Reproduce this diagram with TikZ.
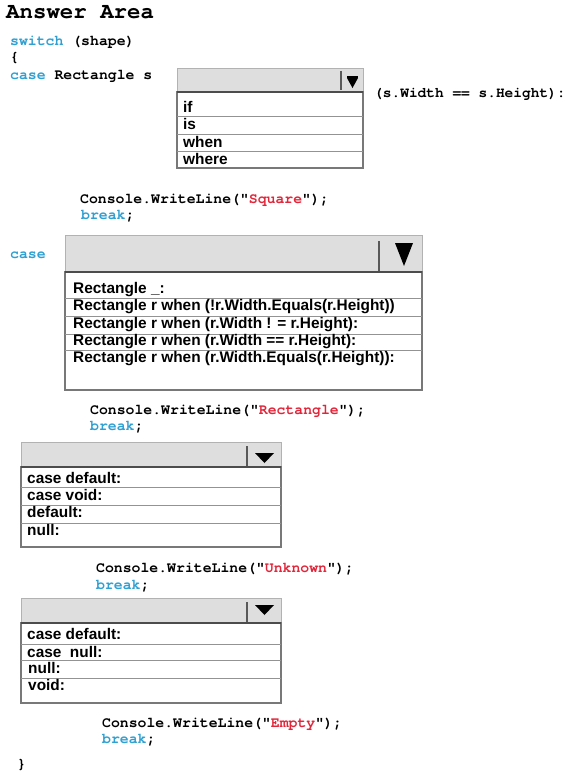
\documentclass[tikz,border=0pt]{standalone}
\usepackage{fontspec}
\usepackage{xcolor}
\usepackage{tikz}
\usetikzlibrary{positioning}
\newfontfamily\codefont[Ligatures=TeXOff]{TeX Gyre Cursor}
\newfontfamily\itemfont{Liberation Sans}
\definecolor{kwBlue}{RGB}{48,160,210}
\definecolor{strRed}{RGB}{226,38,58}
\definecolor{ddFill}{RGB}{222,222,222}
\definecolor{ddEdge}{RGB}{120,120,120}
\newcommand{\kwd}[1]{\textcolor{kwBlue}{#1}}
\newcommand{\strg}[1]{\textcolor{strRed}{#1}}
\tikzset{
  code/.style={font=\codefont\bfseries\fontsize{14.8}{16}\selectfont, anchor=west, inner sep=0, text height=8pt, text depth=0pt},
  title/.style={font=\codefont\bfseries\fontsize{22.4}{24}\selectfont, anchor=west, inner sep=0, text height=13pt, text depth=0pt},
  item/.style={font=\itemfont\bfseries\fontsize{15.4}{17}\selectfont, anchor=west, inner sep=0, text height=10.5pt, text depth=0pt},
  ddhead/.style={fill=ddFill, draw=ddFill!80!black, line width=0.8pt},
  ddlist/.style={draw=ddEdge, line width=1.1pt},
  ddrow/.style={draw=ddEdge!80, line width=0.8pt},
  ddsep/.style={draw=black!65, line width=1.3pt},
  ddtop/.style={draw=black!70, line width=1.3pt}
}
\begin{document}
\begin{tikzpicture}[x=1pt, y=-1pt]
  \useasboundingbox (0,0) rectangle (568,776);
  \node[title] (answer) at (6,12) {Answer Area};

  \node[code] (sw) at (10,42) {\kwd{switch} (shape)};
  \node[code] (open) at (10,58) {\{};
  \node[code] (caseRect) at (10,75) {\kwd{case} Rectangle s};

  % first list
  \filldraw[ddhead] (177,68) rectangle (363,92);
  \draw[ddsep] (341,71) -- (341,90);
  \fill (347,76) rectangle (358,78);
  \fill (347,78) -- (358,78) -- (352.5,88) -- cycle;
  \draw[ddlist] (177,92) rectangle (363,168);
  \draw[ddtop] (177,92) -- (363,92);
  \draw[ddrow] (177,116) -- (363,116);
  \draw[ddrow] (177,134) -- (363,134);
  \draw[ddrow] (177,151) -- (363,151);
  \node[item] (ifOpt) at (183,107) {if};
  \node[item] (isOpt) at (183,124) {is};
  \node[item] (whenOpt) at (183,142) {when};
  \node[item] (whereOpt) at (183,159) {where};
  \node[code, font=\codefont\bfseries\fontsize{14.5}{16}\selectfont] (cond) at (374,93) {(s.Width == s.Height):};

  \node[code] (wlSquare) at (80,199) {Console.WriteLine("\strg{Square}");};
  \node[code] (brSquare) at (81,215) {\kwd{break};};

  % second list
  \node[code] (caseTwo) at (10,254) {\kwd{case}};
  \filldraw[ddhead] (65,235) rectangle (422,272);
  \draw[ddsep] (379,241) -- (379,271);
  \fill (395,243) -- (413,243) -- (404,266) -- cycle;
  \draw[ddlist] (65,272) rectangle (422,390);
  \draw[ddtop] (65,272) -- (422,272);
  \draw[ddrow] (65,298) -- (422,298);
  \draw[ddrow] (65,316) -- (422,316);
  \draw[ddrow] (65,334) -- (422,334);
  \draw[ddrow] (65,350) -- (422,350);
  \node[item] (rectAny) at (73,288) {Rectangle \_:};
  \node[item] (rectNotEq) at (73,305) {Rectangle r when (!r.Width.Equals(r.Height))};
  \node[item] (rectNe) at (73,323) {Rectangle r when (r.Width ! = r.Height):};
  \node[item] (rectEqEq) at (73,340) {Rectangle r when (r.Width == r.Height):};
  \node[item] (rectEq) at (73,357) {Rectangle r when (r.Width.Equals(r.Height)):};

  \node[code] (wlRect) at (90,410) {Console.WriteLine("\strg{Rectangle}");};
  \node[code] (brRect) at (90,426) {\kwd{break};};

  % third list
  \filldraw[ddhead] (21,442) rectangle (281,467);
  \draw[ddsep] (247,446) -- (247,466);
  \fill (255,453) -- (274,453) -- (264.5,463) -- cycle;
  \draw[ddlist] (21,467) rectangle (281,547);
  \draw[ddtop] (21,467) -- (281,467);
  \draw[ddrow] (21,487) -- (281,487);
  \draw[ddrow] (21,505) -- (281,505);
  \draw[ddrow] (21,523) -- (281,523);
  \node[item] (caseDef) at (27,478) {case default:};
  \node[item] (caseVoid) at (27,495) {case void:};
  \node[item] (defOpt) at (27,512) {default:};
  \node[item] (nullOpt) at (27,530) {null:};

  \node[code] (wlUnknown) at (96,568) {Console.WriteLine("\strg{Unknown}");};
  \node[code] (brUnknown) at (96,585) {\kwd{break};};

  % fourth list
  \filldraw[ddhead] (21,598) rectangle (281,623);
  \draw[ddsep] (247,602) -- (247,622);
  \fill (255,605) -- (274,605) -- (264.5,615) -- cycle;
  \draw[ddlist] (21,623) rectangle (281,703);
  \draw[ddtop] (21,623) -- (281,623);
  \draw[ddrow] (21,644) -- (281,644);
  \draw[ddrow] (21,660) -- (281,660);
  \draw[ddrow] (21,678) -- (281,678);
  \node[item] (caseDefTwo) at (27,634) {case default:};
  \node[item] (caseNull) at (27,652) {case\ \ null:};
  \node[item] (nullTwo) at (28,668) {null:};
  \node[item] (voidOpt) at (28,685) {void:};

  \node[code] (wlEmpty) at (102,723) {Console.WriteLine("\strg{Empty}");};
  \node[code] (brEmpty) at (102,739) {\kwd{break};};

  \node[code] (close) at (17,764) {\}};
\end{tikzpicture}
\end{document}
